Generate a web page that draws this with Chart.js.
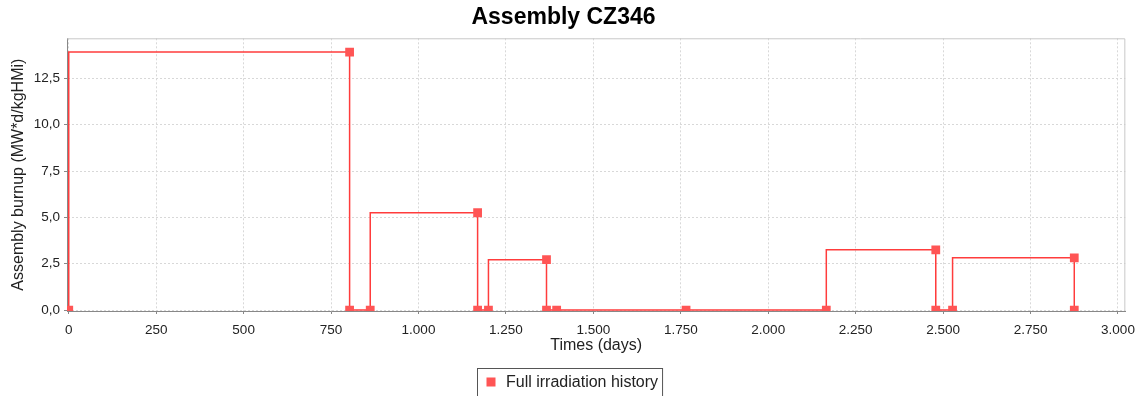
<!DOCTYPE html>
<html>
<head>
<meta charset="utf-8">
<script src="https://cdn.jsdelivr.net/npm/chart.js@4/dist/chart.umd.min.js"></script>
<style>
  body { margin: 0; background: #fff; }
</style>
</head>
<body>
<canvas id="grafica" width="1143" height="396"></canvas>
<script>
// historia de irradiacion del ensamble (dias, MW*d/kgHMi)
const tiempos = [0, 803, 803, 862, 1169, 1169, 1200, 1366, 1366, 1395, 1765, 2166, 2479, 2479, 2527, 2875, 2875];
const quemado = [0, 13.92, 0, 0, 5.25, 0, 0, 2.72, 0, 0, 0, 0, 3.25, 0, 0, 2.82, 0];
const ticksX = [0, 250, 500, 750, 1000, 1250, 1500, 1750, 2000, 2250, 2500, 2750, 3000];
const ticksY = [0, 2.5, 5, 7.5, 10, 12.5];
const serie = 'Full irradiation history';

const puntos = tiempos.map((t, i) => ({ x: t, y: quemado[i] }));

const fuente = 'Liberation Sans, Arial, sans-serif';
const rojo = '#ff5555';

// formato con punto de miles y coma decimal
const fmtX = v => String(v).replace(/\B(?=(\d{3})+(?!\d))/g, '.');
const fmtY = v => v.toFixed(1).replace('.', ',');

// marco del area de la grafica y leyenda con recuadro
const marco = {
  id: 'marco',
  afterDraw(chart) {
    const { ctx, chartArea: a } = chart;
    ctx.save();
    ctx.strokeStyle = '#c8c8c8';
    ctx.lineWidth = 1;
    ctx.beginPath();
    ctx.moveTo(a.left, a.top + 0.5);
    ctx.lineTo(a.right - 0.5, a.top + 0.5);
    ctx.lineTo(a.right - 0.5, a.bottom);
    ctx.stroke();

    const ds = chart.data.datasets[0];
    ctx.font = '16px ' + fuente;
    const ancho = ctx.measureText(ds.label).width + 33;
    const x0 = Math.round(chart.width / 2 - ancho / 2) - 1.5;
    const y0 = 368.5;
    ctx.strokeStyle = '#555';
    ctx.strokeRect(x0, y0, ancho, 32);
    ctx.fillStyle = ds.pointBackgroundColor;
    ctx.fillRect(x0 + 9, y0 + 9, 9, 9);
    ctx.fillStyle = '#222';
    ctx.textBaseline = 'middle';
    ctx.fillText(ds.label, x0 + 28.5, y0 + 14);
    ctx.restore();
  }
};

const ctx = document.getElementById('grafica').getContext('2d');
let myChart = new Chart(ctx, {
  type: 'scatter',
  data: {
    datasets: [
      {
        label: serie,
        data: puntos,
        showLine: true,
        stepped: 'after',
        borderColor: '#ff3c3c',
        borderWidth: 1.5,
        pointStyle: 'rect',
        pointRadius: 6.2,
        pointHoverRadius: 6.2,
        pointBorderWidth: 0,
        pointBackgroundColor: rojo,
        clip: 0
      }
    ]
  },
  options: {
    responsive: false,
    animation: false,
    layout: { padding: { left: 0, right: 16, top: 0, bottom: 40.4 } },
    plugins: {
      legend: { display: false },
      tooltip: { enabled: false },
      title: {
        display: true,
        text: 'Assembly CZ346',
        color: '#000',
        font: { family: fuente, size: 23, weight: 'bold' },
        padding: { top: 4, bottom: 6.7 }
      }
    },
    scales: {
      x: {
        type: 'linear',
        min: -5,
        max: 3021,
        afterFit: s => { s.height = 44.6; },
        afterBuildTicks: s => { s.ticks = ticksX.map(v => ({ value: v })); },
        ticks: {
          callback: v => fmtX(v),
          color: '#222',
          font: { family: fuente, size: 13.5 },
          padding: 8,
          maxRotation: 0,
          autoSkip: false
        },
        grid: { color: '#d8d8d8', tickColor: '#888', tickLength: 3, tickBorderDash: [] },
        border: { color: '#888', dash: [2, 2] },
        title: {
          display: true,
          text: 'Times (days)',
          color: '#222',
          font: { family: fuente, size: 16 },
          padding: 0
        }
      },
      y: {
        min: -0.05,
        max: 14.66,
        afterFit: s => { s.width = 67; },
        afterBuildTicks: s => { s.ticks = ticksY.map(v => ({ value: v })); },
        ticks: {
          callback: v => fmtY(v),
          color: '#222',
          font: { family: fuente, size: 13.5 },
          padding: 4
        },
        grid: { color: '#d8d8d8', tickColor: '#888', tickLength: 3, tickBorderDash: [] },
        border: { color: '#888', dash: [2, 2] },
        title: {
          display: true,
          text: 'Assembly burnup (MW*d/kgHMi)',
          color: '#222',
          font: { family: fuente, size: 16 },
          padding: { top: 8.7, bottom: 0 }
        }
      }
    }
  },
  plugins: [marco]
});
</script>
</body>
</html>
